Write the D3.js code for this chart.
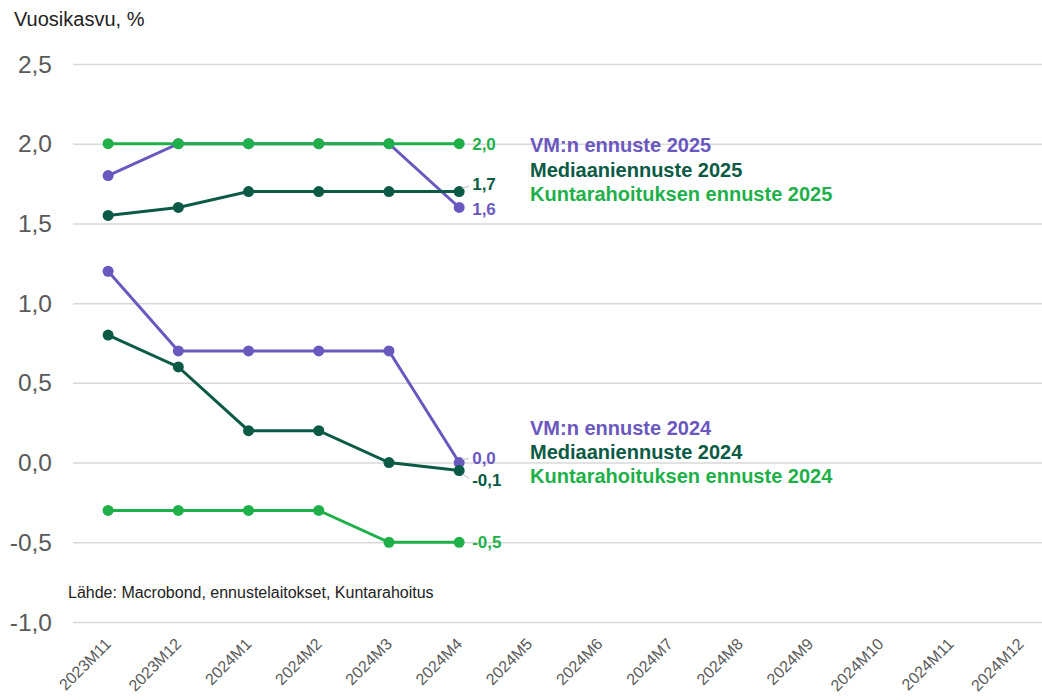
<!DOCTYPE html>
<html>
<head>
<meta charset="utf-8">
<script src="https://cdn.jsdelivr.net/npm/d3@7"></script>
<style>
  body { margin: 0; background: #fff; font-family: Arial, "Liberation Sans", sans-serif; }
  .grid line { stroke: #d9d9d9; stroke-width: 1.5; }
  .grid path { display: none; }
</style>
</head>
<body>
<div class="chart"></div>
<script>
'use strict';

const months = ['2023M11', '2023M12', '2024M1', '2024M2', '2024M3', '2024M4', '2024M5',
  '2024M6', '2024M7', '2024M8', '2024M9', '2024M10', '2024M11', '2024M12'];
const yTicks = [-1.0, -0.5, 0.0, 0.5, 1.0, 1.5, 2.0, 2.5];

const vm2025 = [1.8, 2.0, 2.0, 2.0, 2.0, 1.6];
const median2025 = [1.55, 1.6, 1.7, 1.7, 1.7, 1.7];
const kunta2025 = [2.0, 2.0, 2.0, 2.0, 2.0, 2.0];
const vm2024 = [1.2, 0.7, 0.7, 0.7, 0.7, 0.0];
const median2024 = [0.8, 0.6, 0.2, 0.2, 0.0, -0.05];
const kunta2024 = [-0.3, -0.3, -0.3, -0.3, -0.5, -0.5];

const PURPLE = '#6a58bf';
const DARK = '#0b5a45';
const GREEN = '#1fb04a';

const series = [
  {name: 'VM:n ennuste 2025', values: vm2025, color: PURPLE, label: '1,6', dy: 2},
  {name: 'Mediaaniennuste 2025', values: median2025, color: DARK, label: '1,7', dy: -7, leader: true},
  {name: 'Kuntarahoituksen ennuste 2025', values: kunta2025, color: GREEN, label: '2,0', dy: 0},
  {name: 'VM:n ennuste 2024', values: vm2024, color: PURPLE, label: '0,0', dy: -5, leader: true},
  {name: 'Mediaaniennuste 2024', values: median2024, color: DARK, label: '-0,1', dy: 10, leader: true},
  {name: 'Kuntarahoituksen ennuste 2024', values: kunta2024, color: GREEN, label: '-0,5', dy: 0}
];

const WIDTH = 1042;
const HEIGHT = 700;

const x = d3.scaleBand().domain(months).range([73, 1056]).padding(0);
const y = d3.scaleLinear().domain([-1, 2.5]).range([622, 64]);
const cx = (i) => x(months[i]) + x.bandwidth() / 2;

const svg = d3.select('.chart')
  .append('svg')
    .attr('width', WIDTH)
    .attr('height', HEIGHT);

svg.append('text')
  .attr('x', 14)
  .attr('y', 26)
  .attr('font-size', 20)
  .attr('fill', '#222')
  .text('Vuosikasvu, %');

// gridlines
svg.append('g')
  .attr('class', 'grid')
  .attr('transform', 'translate(73,0)')
  .call(d3.axisLeft(y).tickValues(yTicks).tickSize(-(1056 - 73)).tickFormat(''));

// y labels
svg.append('g')
  .selectAll('text')
  .data(yTicks)
  .enter().append('text')
    .attr('x', 52)
    .attr('y', (d) => y(d))
    .attr('dy', '0.35em')
    .attr('text-anchor', 'end')
    .attr('font-size', 24.5)
    .attr('fill', '#595959')
    .text((d) => d3.format('.1f')(d).replace('.', ',').replace('−', '-'));

// x labels
svg.append('g')
  .selectAll('text')
  .data(months)
  .enter().append('text')
    .attr('transform', (d) => `translate(${x(d) + x.bandwidth() / 2 + 4},645) rotate(-45)`)
    .attr('text-anchor', 'end')
    .attr('font-size', 16)
    .attr('fill', '#595959')
    .text((d) => d);

svg.append('text')
  .attr('x', 68)
  .attr('y', 598)
  .attr('font-size', 16)
  .attr('fill', '#222')
  .text('Lähde: Macrobond, ennustelaitokset, Kuntarahoitus');

const line = d3.line()
  .x((d, i) => cx(i))
  .y((d) => y(d));

series.forEach((s) => {
  const g = svg.append('g');
  g.append('path')
    .datum(s.values)
    .attr('fill', 'none')
    .attr('stroke', s.color)
    .attr('stroke-width', 3)
    .attr('d', line);

  g.selectAll('circle')
    .data(s.values)
    .enter().append('circle')
      .attr('cx', (d, i) => cx(i))
      .attr('cy', (d) => y(d))
      .attr('r', 5.5)
      .attr('fill', s.color);

  const last = s.values.length - 1;
  const px = cx(last);
  const py = y(s.values[last]);
  if (s.leader) {
    svg.append('line')
      .attr('x1', px + 3)
      .attr('y1', py + (s.dy < 0 ? -3 : 3))
      .attr('x2', px + 10)
      .attr('y2', py + s.dy * 0.8)
      .attr('stroke', '#bfbfbf')
      .attr('stroke-width', 1);
  }
  svg.append('text')
    .attr('x', px + 13)
    .attr('y', py + s.dy)
    .attr('dy', '0.35em')
    .attr('font-size', 17)
    .attr('font-weight', 'bold')
    .attr('fill', s.color)
    .text(s.label);
});

// series names
const nameY = [145, 170, 194, 428, 452, 476];
svg.append('g')
  .selectAll('text')
  .data(series)
  .enter().append('text')
    .attr('x', 530)
    .attr('y', (d, i) => nameY[i])
    .attr('dy', '0.35em')
    .attr('font-size', 20)
    .attr('font-weight', 'bold')
    .attr('fill', (d) => d.color)
    .text((d) => d.name);
</script>
</body>
</html>
